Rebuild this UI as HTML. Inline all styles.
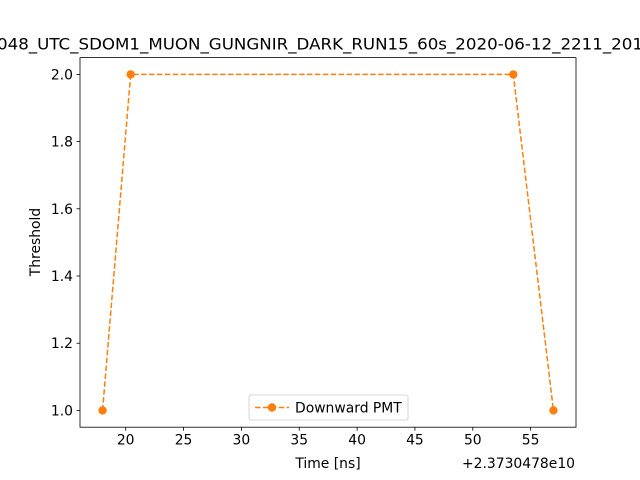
<!DOCTYPE html>
<html><head><meta charset="utf-8"><style>
html,body{margin:0;padding:0;background:#fff;}
svg{display:block;font-family:"DejaVu Sans","Liberation Sans",sans-serif;}
</style></head><body>
<svg id="chart" width="640" height="480" viewBox="0 0 640 480">
<rect width="640" height="480" fill="#fff"/>
<text x="320" y="49.5" font-size="16.2" text-anchor="middle" textLength="646" lengthAdjust="spacingAndGlyphs">048_UTC_SDOM1_MUON_GUNGNIR_DARK_RUN15_60s_2020-06-12_2211_201</text>
<g id="xticks"></g><g id="yticks"></g>
<g id="series"></g>
<rect x="80" y="57.6" width="496" height="369.6" fill="none" stroke="#000" stroke-width="0.8"/>
<text x="328" y="468" font-size="13.9" text-anchor="middle">Time [ns]</text>
<text x="575" y="468" font-size="13.9" text-anchor="end">+2.3730478e10</text>
<text transform="translate(40,242) rotate(-90)" font-size="13.9" text-anchor="middle">Threshold</text>
<g>
<rect x="249" y="395" width="159" height="25" rx="2" fill="#fff" fill-opacity="0.8" stroke="#ccc" stroke-width="0.8"/>
<line x1="255" y1="407.5" x2="289" y2="407.5" stroke="#ff7f0e" stroke-width="1.5" stroke-dasharray="5.5,2.4"/>
<circle cx="272" cy="407.5" r="4.2" fill="#ff7f0e"/>
<text x="295" y="412.5" font-size="13.9">Downward PMT</text>
</g>
</svg>
<script>
const xValues=[18.0,20.43,53.5,56.97];
const yValues=[1.0,2.0,2.0,1.0];
const xTickLabels=[20,25,30,35,40,45,50,55];
const yTickLabels=[1.0,1.2,1.4,1.6,1.8,2.0];
const NS='http://www.w3.org/2000/svg';
const L=80,R=576,T=57.6,B=427.2;
const xmin=16.05,xmax=58.92,ymin=0.95,ymax=2.05;
const sx=v=>L+(v-xmin)/(xmax-xmin)*(R-L);
const sy=v=>B-(v-ymin)/(ymax-ymin)*(B-T);
function mk(tag,attrs,parent){const e=document.createElementNS(NS,tag);for(const k in attrs)e.setAttribute(k,attrs[k]);parent.appendChild(e);return e;}
const xg=document.getElementById('xticks');
xTickLabels.forEach(v=>{const x=sx(v);
const t=mk('line',{x1:x,x2:x,y1:B,y2:B+3.5,stroke:'#000','stroke-width':0.8},xg);


const l=mk('text',{x:x,y:B+17.5,'font-size':13.9,'text-anchor':'middle'},xg);l.textContent=v;

});
const yg=document.getElementById('yticks');
yTickLabels.forEach(v=>{const y=sy(v);
const t=mk('line',{x1:L-3.5,x2:L,y1:y,y2:y,stroke:'#000','stroke-width':0.8},yg);


const l=mk('text',{x:L-7,y:y+5,'font-size':13.9,'text-anchor':'end'},yg);l.textContent=v.toFixed(1);

});
const sg=document.getElementById('series');
const pts=xValues.map((x,i)=>sx(x)+','+sy(yValues[i])).join(' ');
const pl=mk('polyline',{points:pts,fill:'none',stroke:'#ff7f0e','stroke-width':1.5,'stroke-dasharray':'5.5,2.4'},sg);


xValues.forEach((x,i)=>{const c=mk('circle',{cx:sx(x),cy:sy(yValues[i]),r:4.2,fill:'#ff7f0e'},sg);

});
</script>
</body></html>
